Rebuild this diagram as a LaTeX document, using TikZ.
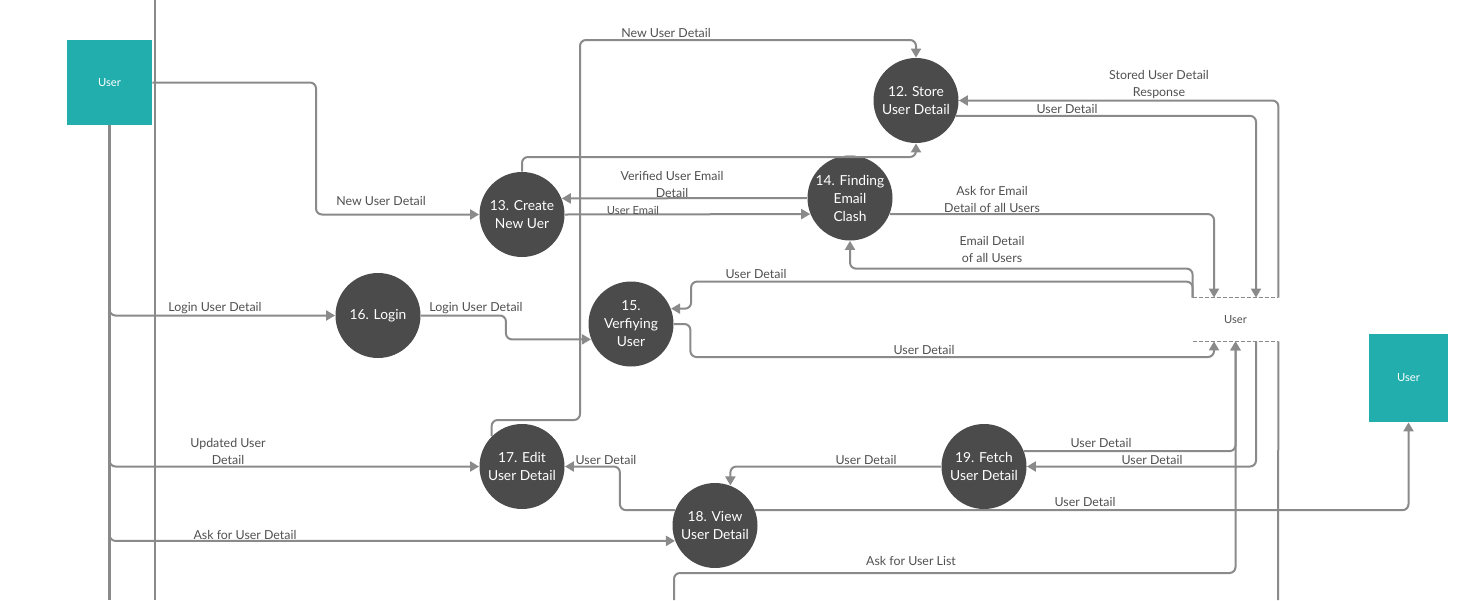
\documentclass[tikz,border=0pt]{standalone}
\usepackage{fontspec}
\setmainfont{Lato}
\usetikzlibrary{arrows.meta, positioning}
\definecolor{userteal}{RGB}{34,174,173}
\definecolor{procgray}{RGB}{75,75,75}
\definecolor{flowgray}{RGB}{138,138,138}
\definecolor{textgray}{RGB}{80,80,80}
\begin{document}
\begin{tikzpicture}[
    x=0.5pt, y=-0.5pt,     % one unit is one pixel of the sketch
    flow/.style={
        draw=flowgray,
        line width=1pt,
        ->,
        >={Triangle[length=4.5pt, width=5pt]},
        rounded corners=3pt % rounds the bends of the flow
    },
    wire/.style={
        draw=flowgray,
        line width=1pt,
        rounded corners=3pt
    },
    process/.style={
        circle,
        fill=procgray,
        text=white,
        minimum size=42.5pt,
        inner sep=0pt,
        align=center,
        font=\fontsize{6.9}{9}\selectfont
    },
    entity/.style={
        rectangle,
        fill=userteal,
        text=white,
        font=\fontsize{5.6}{7}\selectfont
    },
    datastore/.style={
        minimum width=42.5pt,
        minimum height=21.5pt,
        inner sep=0pt,
        text=textgray,
        font=\fontsize{5.6}{7}\selectfont
    },
    flowlabel/.style={
        text=textgray,
        align=center,
        inner sep=0pt,
        yshift=-0.7pt,
        font=\fontsize{6.2}{8.5}\selectfont
    }
]
\useasboundingbox (0,0) rectangle (1477,600);

        \node[entity, minimum width=42.5pt, minimum height=42.5pt] (user1) at (109.5,82.5) {User};
        \node[entity, minimum width=39.5pt, minimum height=44pt] (user2) at (1408.5,378) {User};

        \node[process] (n12) at (916,100.5) {12. Store\\User Detail};
        \node[process] (n13) at (522,214.5) {13. Create\\New Uer};
        \node[process] (n14) at (850,198) {14. Finding\\Email\\Clash};
        \node[process] (n15) at (631,324) {15.\\Verfiying\\User};
        \node[process] (n16) at (378,315.5) {16. Login};
        \node[process] (n17) at (522,466.5) {17. Edit\\User Detail};
        \node[process] (n18) at (715,525.5) {18. View\\User Detail};
        \node[process] (n19) at (984,466.5) {19. Fetch\\User Detail};

        \node[datastore] (users) at (1235.5,319.5) {User};

        \coordinate (frameTop) at (155,0);
        \coordinate (frameBot) at (155,600);
        \coordinate (laneEnd) at (109.5,600);
        \coordinate (listIn) at (674,600);
        \coordinate (storeOut) at (1278,600);

    % data store and the loose lines
    \draw[draw=flowgray, line width=0.8pt, dash pattern=on 2pt off 1pt] (users.north west) -- (users.north east);
    \draw[draw=flowgray, line width=0.8pt, dash pattern=on 2pt off 1pt] (users.south west) -- (users.south east);
    \draw[draw=flowgray, line width=0.7pt] (frameTop) -- (frameBot);
    \draw[wire, line width=1.2pt] (user1.south) -- (laneEnd);
    \draw[wire] (users.south east) -- (storeOut);

    % flows from the user
    \draw[flow] (user1.east) -| (316,214.5) -- (n13.west);
    \draw[flow] (user1.south) |- (n16.west);
    \draw[flow] (user1.south) |- (n17.west);
    \draw[flow] (user1.south) |- (n18.201);

    % create and store
    \draw[flow] (n17.135) |- (580,420) |- (916,40) -- (n12.north);
    \draw[flow] (n13.north) |- (916,157) -- (n12.south);
    \draw[flow] (n14.west) -- (n13.22);
    \draw[flow] (n13.east) -- (n14.202);
    \draw[flow] (n14.-22) -| ([xshift=-10.75pt]users.north);
    \draw[flow] (users.north west) -- ++(0,-29) -| (n14.south);
    \draw[flow] (n12.-21) -| ([xshift=10.25pt]users.north);
    \draw[flow] (users.north east) |- (n12.east);

    % login
    \draw[flow] (n16.east) -| ([xshift=-42.5pt]n15.201) -- (n15.201);
    \draw[flow] (users.north west) -- ++(0,-16) -| ([xshift=10pt]n15.21) -- (n15.21);
    \draw[flow] (n15.east) -- ++(16.5,0) -- ++(0,33) -| ([xshift=-10.75pt]users.south);

    % edit, view and fetch
    \draw[flow] (n18.159) -| ([xshift=27.5pt]n17.east) -- (n17.east);
    \draw[flow] (n19.west) -| (n18.69);
    \draw[flow] (n19.21) -| (users.south);
    \draw[flow] ([xshift=10.25pt]users.south) |- (n19.east);
    \draw[flow] (listIn) -- ++(0,-27) -| (users.south);
    \draw[flow] (n18.21) -| (user2.south);

        \node[flowlabel] (lbNewTop) at (666,32) {New User Detail};
        \node[flowlabel] (lbNewLeft) at (381,200) {New User Detail};
        \node[flowlabel] (lbVerified) at (672,183.5) {Verified User Email\\Detail};
        \node[flowlabel, font=\fontsize{5.6}{7}\selectfont] (lbEmail) at (633,209) {User Email};
        \node[flowlabel] (lbAskEmail) at (992,198) {Ask for Email\\Detail of all Users};
        \node[flowlabel] (lbEmailAll) at (992,248.5) {Email Detail\\of all Users};
        \node[flowlabel] (lbToVerify) at (756,273) {User Detail};
        \node[flowlabel] (lbToStore) at (1067,108) {User Detail};
        \node[flowlabel] (lbStored) at (1159,83) {Stored User Detail\\Response};
        \node[flowlabel] (lbLoginA) at (215,307) {Login User Detail};
        \node[flowlabel] (lbLoginB) at (476,307) {Login User Detail};
        \node[flowlabel] (lbVerifyOut) at (924,349) {User Detail};
        \node[flowlabel] (lbUpdated) at (228,450) {Updated User\\Detail};
        \node[flowlabel] (lbAskUser) at (245,534) {Ask for User Detail};
        \node[flowlabel] (lbToEdit) at (606,459) {User Detail};
        \node[flowlabel] (lbToView) at (866,459) {User Detail};
        \node[flowlabel] (lbFetchOut) at (1101,442) {User Detail};
        \node[flowlabel] (lbFetchIn) at (1152,459) {User Detail};
        \node[flowlabel] (lbToUser) at (1085,501) {User Detail};
        \node[flowlabel] (lbList) at (911,560) {Ask for User List};
\end{tikzpicture}
\end{document}
